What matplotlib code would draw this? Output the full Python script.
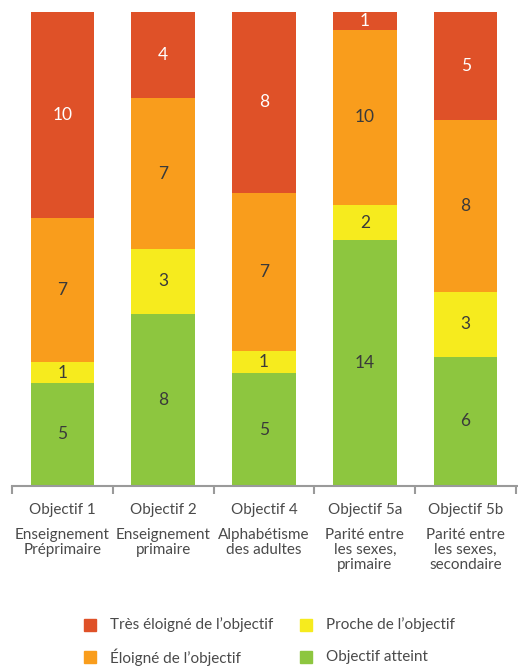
import numpy as np
import matplotlib.pyplot as plt
from matplotlib.patches import Rectangle

# ── Données ────────────────────────────────────────────
objectifs = ['Objectif 1', 'Objectif 2', 'Objectif 4', 'Objectif 5a', 'Objectif 5b']
descriptions = ['Enseignement\nPréprimaire', 'Enseignement\nprimaire',
                'Alphabétisme\ndes adultes', 'Parité entre\nles sexes,\nprimaire',
                'Parité entre\nles sexes,\nsecondaire']
atteint  = [5, 8, 5, 14, 6]
proche   = [1, 3, 1, 2, 3]
eloigne  = [7, 7, 7, 10, 8]
tres_eloigne = [10, 4, 8, 1, 5]

noms = ['Objectif atteint', 'Proche de l’objectif',
        'Éloigné de l’objectif', 'Très éloigné de l’objectif']
RED = '#DF5128'; ORANGE = '#F99D1C'; YELLOW = '#F6EB1E'; GREEN = '#8DC63F'
GREY = '#4a4a4a'

plt.rcParams['font.family'] = ['Lato', 'DejaVu Sans']

series = [atteint, proche, eloigne, tres_eloigne]
couleurs = [GREEN, YELLOW, ORANGE, RED]
txtcol = ['#3a3a3a', '#3a3a3a', '#3a3a3a', 'white']

totals = np.sum(series, axis=0)
x = np.arange(len(objectifs))

fig = plt.figure(figsize=(5.18, 6.66), dpi=100)
ax = fig.add_axes([12/518, 1 - 486/666, 1 - 12/518, (486 - 12)/666])

bottom = np.zeros(len(x))
for vals, c, tc in zip(series, couleurs, txtcol):
    frac = np.array(vals) / totals
    ax.bar(x, frac, bottom=bottom, width=0.63, color=c, edgecolor='none')
    for xi, b, f, v in zip(x, bottom, frac, vals):
        ax.text(xi, b + f / 2, str(v), ha='center', va='center',
                color=tc, fontsize=12.5)
    bottom += frac

ax.set_xlim(-0.5, len(x) - 0.5 + 0.02)
ax.set_ylim(0, 1)
for s in ['top', 'right', 'left']:
    ax.spines[s].set_visible(False)
ax.spines['bottom'].set_color('#9a9a9a')
ax.spines['bottom'].set_linewidth(1.5)
ax.set_yticks([])
ax.set_xticks(np.arange(-0.5, len(x), 1.0))
ax.set_xticklabels([])
ax.tick_params(axis='x', length=6, width=1.5, color='#9a9a9a')

for xi, o, d in zip(x, objectifs, descriptions):
    ax.text(xi, -0.035, o, ha='center', va='top', color=GREY, fontsize=11,
            transform=ax.get_xaxis_transform())
    ax.text(xi, -0.088, d, ha='center', va='top', color=GREY, fontsize=11,
            linespacing=1.1, transform=ax.get_xaxis_transform())

# Légende
legend_items = [(RED, noms[3], 84, 625), (YELLOW, noms[1], 300, 625),
                (ORANGE, noms[2], 84, 657), (GREEN, noms[0], 300, 657)]
for c, n, px, py in legend_items:
    fig.patches.append(Rectangle((px / 518, 1 - (py + 6) / 666), 12 / 518, 12 / 666,
                                 color=c, transform=fig.transFigure))
    fig.text((px + 26) / 518, 1 - py / 666, n, ha='left', va='center',
             color=GREY, fontsize=11)

fig.savefig('out.png', dpi=100)
